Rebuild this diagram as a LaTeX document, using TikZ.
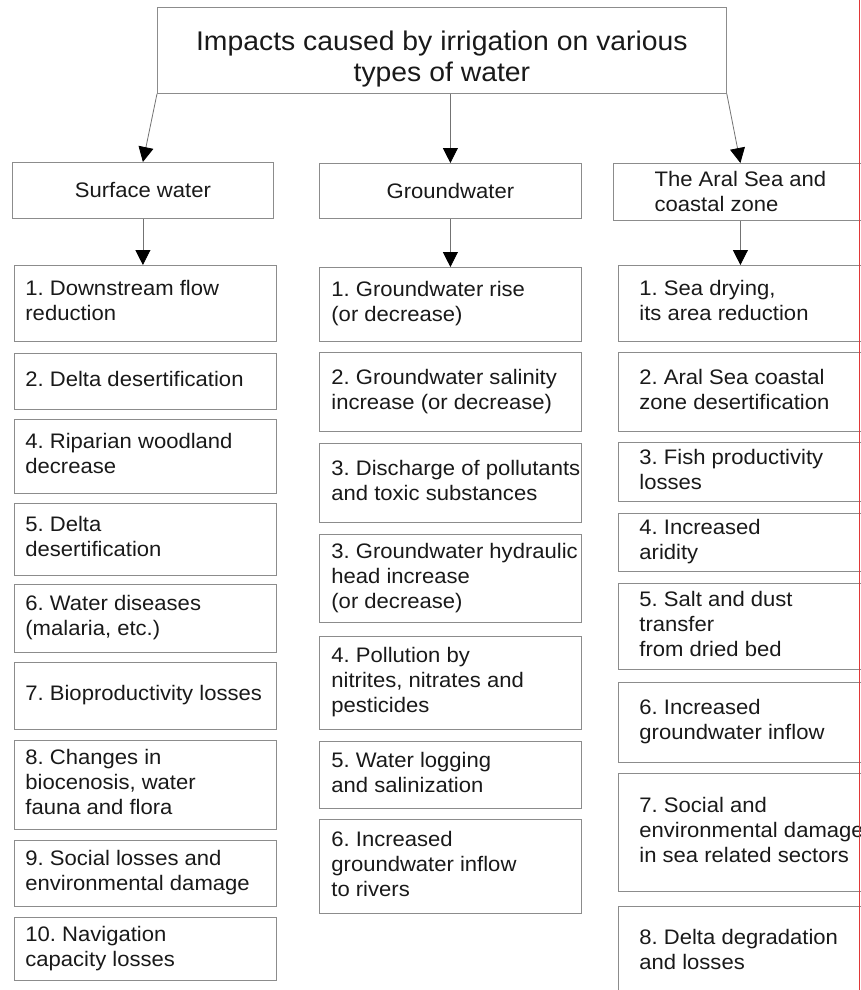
\documentclass[tikz,border=0pt]{standalone}
\usepackage{fontspec}
\setmainfont{Liberation Sans}[FakeStretch=1.05]
\usetikzlibrary{arrows.meta}
\frenchspacing

\definecolor{edgered}{RGB}{225,55,55}

% rows of one impact box, left aligned, never wrapped
\newcommand{\cellrows}[2]{\makebox[#1][l]{\begin{tabular}{@{}l@{}}#2\end{tabular}}}

\tikzset{
    box/.style={draw=black!45, line width=0.8pt, inner ysep=0pt, text=black!90,
        font=\fontsize{21}{25}\selectfont},
    impact/.style={box, anchor=north west},
    arr/.style={draw=black!55, line width=0.8pt,
        -{Triangle[length=15pt, width=15pt, color=black]}},
}

\begin{document}
\begin{tikzpicture}[x=1pt, y=-1pt]

        % Page frame
        \useasboundingbox (0,0) rectangle (861,990);
        \clip (0,0) rectangle (861,990);

        % Title
        \node[box, anchor=north west, align=center, minimum width=569, minimum height=86,
            font=\fontsize{27}{31}\selectfont] (title) at (157,7)
            {\rule{0pt}{36pt}Impacts caused by irrigation on various\\types of water};

        % Types of water
        \node[box, anchor=north west, minimum width=261, minimum height=56] (surf) at (12,162) {Surface water};
        \node[box, anchor=north west, minimum width=262, minimum height=55] (grnd) at (319,163) {Groundwater};
        \node[box, anchor=north west, align=left, minimum width=254, minimum height=57] (aral) at (613,163)
            {The Aral Sea and\\coastal zone};

        % Arrows from the title
        \draw[arr] (title.south west) -- (surf.north);
        \draw[arr] (title.south -| grnd.north) -- (grnd.north);
        \draw[arr] (title.south east) -- (aral.north);

        % Surface water impacts
        \foreach \name/\y/\h/\txt in {
            s1/265/76/{1. Downstream flow\\reduction},
            s2/353/56/{2. Delta desertification},
            s4/419/74/{4. Riparian woodland\\decrease},
            s5/503/72/{5. Delta\\desertification},
            s6/584/68/{6. Water diseases\\(malaria, etc.)},
            s7/662/67/{7. Bioproductivity losses},
            s8/740/89/{8. Changes in\\biocenosis, water\\fauna and flora},
            s9/840/66/{9. Social losses and\\environmental damage},
            s10/917/63/{10. Navigation\\capacity losses}} {
            \node[impact, inner xsep=11pt, minimum width=262, minimum height=\h] (\name) at (14,\y)
                {\cellrows{240pt}{\txt}};
        }

        % Groundwater impacts
        \foreach \name/\y/\h/\txt in {
            g1/267/74/{1. Groundwater rise\\(or decrease)},
            g2/352/79/{2. Groundwater salinity\\increase (or decrease)},
            g3/443/79/{3. Discharge of pollutants\\and toxic substances},
            g3b/534/88/{3. Groundwater hydraulic\\head increase\\(or decrease)},
            g4/636/93/{4. Pollution by\\nitrites, nitrates and\\pesticides},
            g5/741/67/{5. Water logging\\and salinization},
            g6/819/94/{6. Increased\\groundwater inflow\\to rivers}} {
            \node[impact, inner xsep=12pt, minimum width=262, minimum height=\h] (\name) at (319,\y)
                {\cellrows{238pt}{\txt}};
        }

        % Aral Sea impacts
        \foreach \name/\y/\h/\txt in {
            a1/265/76/{1. Sea drying,\\its area reduction},
            a2/352/79/{2. Aral Sea coastal\\zone desertification},
            a3/442/59/{3. Fish productivity\\losses},
            a4/513/58/{4. Increased\\aridity},
            a5/583/86/{5. Salt and dust\\transfer\\from dried bed},
            a6/682/80/{6. Increased\\groundwater inflow},
            a7/773/118/{7. Social and\\environmental damage\\in sea related sectors},
            a8/906/92/{8. Delta degradation\\and losses}} {
            \node[impact, inner xsep=21pt, minimum width=244, minimum height=\h] (\name) at (618,\y)
                {\cellrows{202pt}{\txt}};
        }

        % Arrows to the first impacts
        \draw[arr] (surf.south) -- (surf.south |- s1.north);
        \draw[arr] (grnd.south) -- (grnd.south |- g1.north);
        \draw[arr] (aral.south) -- (aral.south |- a1.north);

        % Edge line
        \draw[edgered, line width=1.2pt] (859.6,0) -- (859.6,990);

\end{tikzpicture}
\end{document}
